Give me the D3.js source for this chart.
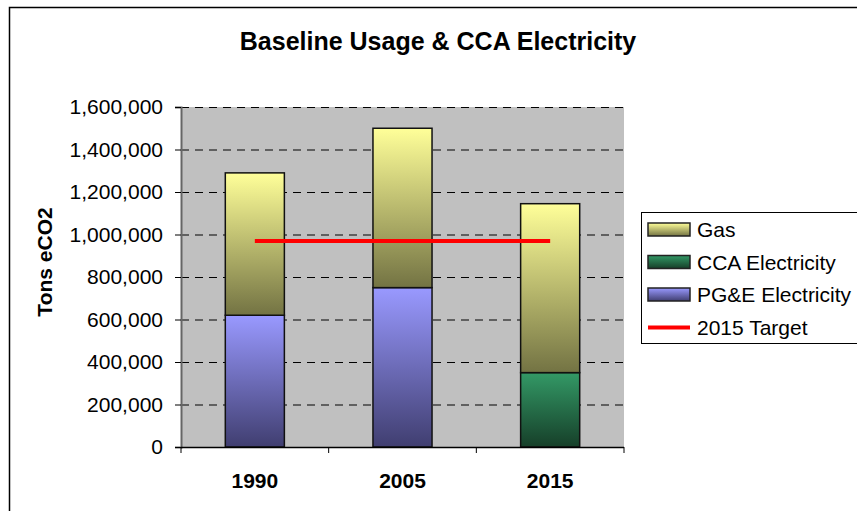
<!DOCTYPE html>
<html><head><meta charset="utf-8">
<script src="https://cdn.jsdelivr.net/npm/d3@7"></script>
<style>html,body{margin:0;padding:0;background:#fff;overflow:hidden}text{font-family:"Liberation Sans",Arial,sans-serif}</style>
</head><body>
<svg id="c" width="857" height="511"></svg>
<script>
const categories = ["1990", "2005", "2015"];
const pgeElectricity = [620000, 750000, 0];
const ccaElectricity = [0, 0, 350000];
const gas = [670000, 750000, 795000];
const target2015 = [970000, 970000, 970000];
const yTicks = [0, 200000, 400000, 600000, 800000, 1000000, 1200000, 1400000, 1600000];
const seriesNames = ["PG&E Electricity", "CCA Electricity", "Gas"];
const legendNames = ["Gas", "CCA Electricity", "PG&E Electricity", "2015 Target"];

const svg = d3.select("#c");
const defs = svg.append("defs");
function grad(id, top, bottom) {
  const g = defs.append("linearGradient").attr("id", id).attr("x1", 0).attr("y1", 0).attr("x2", 0).attr("y2", 1);
  g.append("stop").attr("offset", "0%").attr("stop-color", top);
  g.append("stop").attr("offset", "100%").attr("stop-color", bottom);
}
grad("gGas", "#FFFF99", "#737343");
grad("gCCA", "#339966", "#163f29");
grad("gPGE", "#9999FF", "#403e70");
const fills = {"Gas": "url(#gGas)", "CCA Electricity": "url(#gCCA)", "PG&E Electricity": "url(#gPGE)"};

// outer border
svg.append("rect").attr("x", 9.5).attr("y", 7.5).attr("width", 900).attr("height", 600)
  .attr("fill", "none").attr("stroke", "#000").attr("stroke-width", 1.5);

const L = 181, R = 624, T = 107, B = 447;
const x = d3.scaleBand().domain(categories).range([L, R]).paddingInner(0.6).paddingOuter(0.3);
const y = d3.scaleLinear().domain([0, 1600000]).range([B, T]);

svg.append("rect").attr("x", L).attr("y", T).attr("width", R - L).attr("height", B - T).attr("fill", "#C0C0C0");

// gridlines
svg.append("g").selectAll("line").data(yTicks.filter(d => d > 0)).join("line")
  .attr("x1", L).attr("x2", R).attr("y1", d => y(d) + 0.5).attr("y2", d => y(d) + 0.5)
  .attr("stroke", "#000").attr("stroke-width", 1).attr("stroke-dasharray", "8,6");

// stacked bars
const rows = categories.map((c, i) => ({cat: c, "PG&E Electricity": pgeElectricity[i], "CCA Electricity": ccaElectricity[i], "Gas": gas[i]}));
const stack = d3.stack().keys(seriesNames)(rows);
stack.forEach(s => {
  svg.append("g").selectAll("rect").data(s.filter(d => d[1] - d[0] > 0)).join("rect")
    .attr("x", d => x(d.data.cat)).attr("width", x.bandwidth())
    .attr("y", d => y(d[1])).attr("height", d => y(d[0]) - y(d[1]))
    .attr("fill", fills[s.key]).attr("stroke", "#111").attr("stroke-width", 1.5);
});

// target line
const line = d3.line().x((d, i) => x(categories[i]) + x.bandwidth() / 2).y(d => y(d));
svg.append("path").datum(target2015).attr("d", line).attr("fill", "none")
  .attr("stroke", "#FF0000").attr("stroke-width", 4);

// y axis
const ya = svg.append("g").attr("transform", `translate(${L},0)`)
  .call(d3.axisLeft(y).tickValues(yTicks).tickFormat(d3.format(",")).tickSize(6).tickPadding(12));
ya.select(".domain").attr("stroke", "#666").attr("stroke-width", 2);
ya.selectAll(".tick line").attr("stroke", "#000");
ya.selectAll("text").attr("font-size", 21).attr("fill", "#000").style("font-family", '"Liberation Sans",Arial,sans-serif');

// x axis
const xa = svg.append("g").attr("transform", `translate(0,${B})`);
xa.append("line").attr("x1", L).attr("x2", R).attr("y1", 0.5).attr("y2", 0.5).attr("stroke", "#000").attr("stroke-width", 1.5);
const bounds = [L].concat(categories.map(c => x(c) + x.bandwidth() + x.step() * 0.3));
xa.selectAll("line.tk").data(bounds).join("line").attr("class", "tk")
  .attr("x1", d => d).attr("x2", d => d).attr("y1", 0).attr("y2", 6).attr("stroke", "#000");
xa.selectAll("text").data(categories).join("text")
  .attr("x", d => x(d) + x.bandwidth() / 2).attr("y", 41).attr("text-anchor", "middle")
  .attr("font-size", 21).attr("font-weight", "bold").text(d => d);

// titles
svg.append("text").attr("x", 438).attr("y", 50).attr("text-anchor", "middle")
  .attr("font-size", 25).attr("font-weight", "bold").text("Baseline Usage & CCA Electricity");
svg.append("text").attr("transform", "translate(52,262) rotate(-90)").attr("text-anchor", "middle")
  .attr("font-size", 21).attr("font-weight", "bold").text("Tons eCO2");

// legend
const lg = svg.append("g");
lg.append("rect").attr("x", 641.5).attr("y", 212.5).attr("width", 240).attr("height", 131)
  .attr("fill", "#fff").attr("stroke", "#000").attr("stroke-width", 1);
legendNames.forEach((n, i) => {
  const cy = 229 + i * 32.5;
  if (fills[n]) {
    lg.append("rect").attr("x", 648).attr("y", cy - 6).attr("width", 42).attr("height", 13)
      .attr("fill", fills[n]).attr("stroke", "#222").attr("stroke-width", 1.5);
  } else {
    lg.append("line").attr("x1", 648).attr("x2", 690).attr("y1", cy + 1).attr("y2", cy + 1)
      .attr("stroke", "#FF0000").attr("stroke-width", 4);
  }
  lg.append("text").attr("x", 697).attr("y", cy + 8).attr("font-size", 21).text(n);
});
</script>
</body></html>
